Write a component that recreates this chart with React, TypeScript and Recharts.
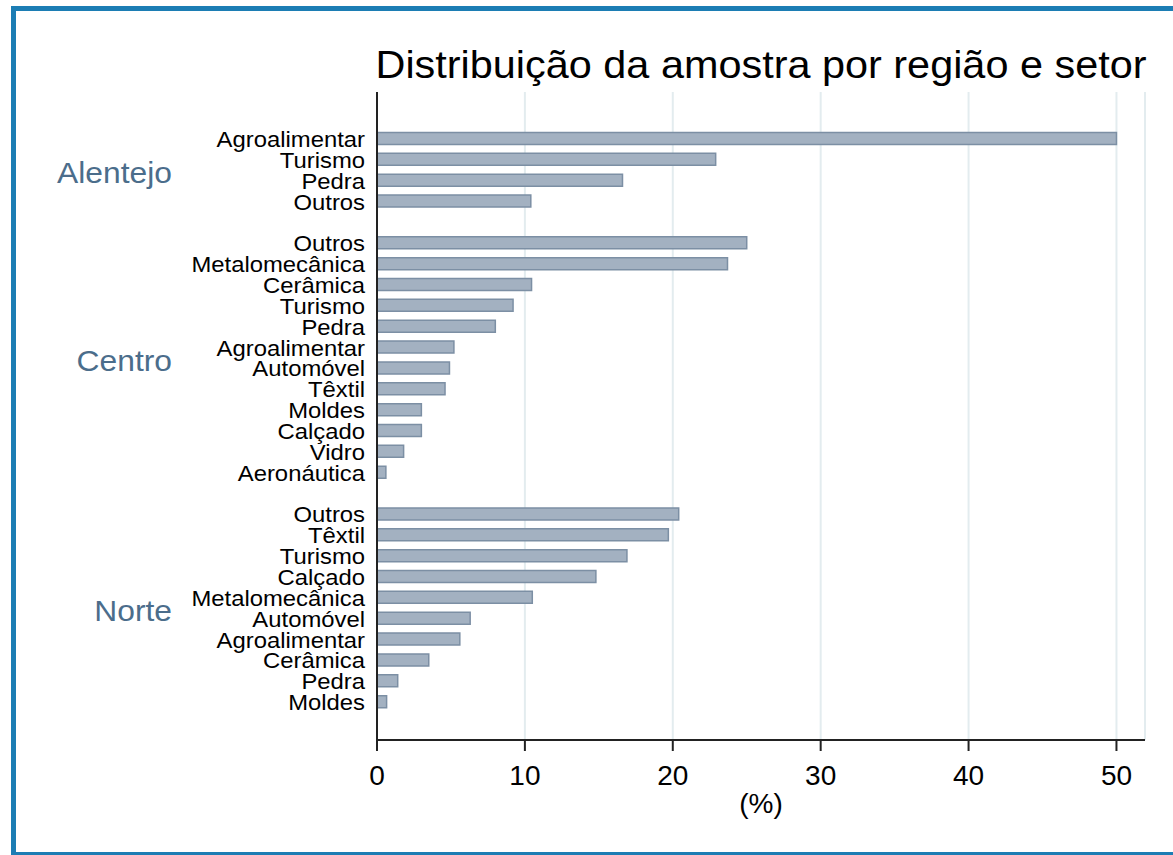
import React from 'react';
import { BarChart, Bar, XAxis, YAxis, CartesianGrid, Label } from 'recharts';

const regions = ['Alentejo', 'Centro', 'Norte'];

const alentejoSectors = ['Agroalimentar', 'Turismo', 'Pedra', 'Outros'];
const alentejoValues = [50.0, 22.9, 16.6, 10.4];

const centroSectors = [
  'Outros', 'Metalomecânica', 'Cerâmica', 'Turismo', 'Pedra', 'Agroalimentar',
  'Automóvel', 'Têxtil', 'Moldes', 'Calçado', 'Vidro', 'Aeronáutica',
];
const centroValues = [25.0, 23.7, 10.45, 9.2, 8.0, 5.2, 4.9, 4.6, 3.0, 3.0, 1.8, 0.6];

const norteSectors = [
  'Outros', 'Têxtil', 'Turismo', 'Calçado', 'Metalomecânica', 'Automóvel',
  'Agroalimentar', 'Cerâmica', 'Pedra', 'Moldes',
];
const norteValues = [20.4, 19.7, 16.9, 14.8, 10.5, 6.3, 5.6, 3.5, 1.4, 0.65];

const xTicks = [0, 10, 20, 30, 40, 50];
const title = 'Distribuição da amostra por região e setor';
const xLabel = '(%)';

const groups = [
  { region: regions[0], sectors: alentejoSectors, values: alentejoValues },
  { region: regions[1], sectors: centroSectors, values: centroValues },
  { region: regions[2], sectors: norteSectors, values: norteValues },
];

type Row = { key: string; sector: string; value: number | null; region?: string };
const rows: Row[] = [];
groups.forEach((g, gi) => {
  if (gi > 0) rows.push({ key: `gap${gi}`, sector: '', value: null });
  const mid = g.sectors.length / 2 - 1;
  g.sectors.forEach((s, i) => {
    rows.push({
      key: `${g.region}|${s}`,
      sector: s,
      value: g.values[i],
      region: i === mid ? g.region : undefined,
    });
  });
});
const rowByKey: Record<string, Row> = {};
rows.forEach((r) => (rowByKey[r.key] = r));

const FONT = "'Liberation Sans', Arial, Helvetica, sans-serif";

const YTick = (props: any) => {
  const { x, y, payload } = props;
  const row = rowByKey[payload.value];
  if (!row) return null;
  const off = typeof payload.offset === 'number' && payload.offset > 0 ? payload.offset : 10.45;
  return (
    <g>
      {row.sector && (
        <text
          transform={`translate(${x},${y}) scale(1.06,1)`}
          x={0}
          y={0}
          dy="0.36em"
          textAnchor="end"
          fontSize={22.5}
          fill="#000"
          fontFamily={FONT}
        >
          {row.sector}
        </text>
      )}
      {row.region && (
        <text
          transform={`translate(172,${y + off + 2}) scale(1.06,1)`}
          x={0}
          y={0}
          dy="0.36em"
          textAnchor="end"
          fontSize={30}
          fill="#4b6d8b"
          fontFamily={FONT}
        >
          {row.region}
        </text>
      )}
    </g>
  );
};

const XLabelContent = (props: any) => {
  const vb = props.viewBox || {};
  return (
    <text x={vb.x + vb.width / 2} y={vb.y + 73} textAnchor="middle" fontSize={28} fill="#000" fontFamily={FONT}>
      {xLabel}
    </text>
  );
};

export default function App() {
  return (
    <div
      style={{
        position: 'absolute',
        left: 0,
        top: 0,
        width: 1173,
        height: 855,
        overflow: 'hidden',
        background: '#fff',
        fontFamily: FONT,
      }}
    >
      <div
        style={{
          position: 'absolute',
          left: 11,
          top: 6,
          width: 1300,
          height: 849,
          boxSizing: 'border-box',
          borderLeft: '5px solid #1c7db4',
          borderTop: '5px solid #1c7db4',
          borderBottom: '3px solid #1c7db4',
        }}
      />
      <svg style={{ position: 'absolute', left: 0, top: 0 }} width={1173} height={100}>
        <text
          transform="translate(761,78) scale(1.09,1)"
          x={0}
          y={0}
          textAnchor="middle"
          fontSize={38}
          fill="#000"
          fontFamily={FONT}
        >
          {title}
        </text>
      </svg>
      <div style={{ position: 'absolute', left: 0, top: 0 }}>
        <BarChart
          width={1173}
          height={855}
          data={rows}
          layout="vertical"
          margin={{ top: 92, right: 28, bottom: 0, left: 0 }}
          barCategoryGap={0}
        >
          <CartesianGrid horizontal={false} vertical stroke="#e3ecef" strokeWidth={2} />
          <XAxis
            type="number"
            domain={[0, 51.93]}
            ticks={xTicks}
            allowDataOverflow
            height={115}
            tickSize={11}
            tickMargin={14}
            axisLine={{ stroke: '#222', strokeWidth: 2 }}
            tickLine={{ stroke: '#222', strokeWidth: 2 }}
            tick={{ fontSize: 28, fill: '#000', fontFamily: FONT }}
          >
            <Label content={<XLabelContent />} />
          </XAxis>
          <YAxis
            type="category"
            dataKey="key"
            width={377}
            interval={0}
            tickLine={false}
            tickSize={0}
            tickMargin={12}
            axisLine={{ stroke: '#222', strokeWidth: 2 }}
            padding={{ top: 36.5, bottom: 27.5 }}
            tick={<YTick />}
          />
          <Bar
            dataKey="value"
            barSize={12}
            fill="#a3b1c1"
            stroke="#7c8fa4"
            strokeWidth={1.5}
            isAnimationActive={false}
          />
        </BarChart>
      </div>
    </div>
  );
}
